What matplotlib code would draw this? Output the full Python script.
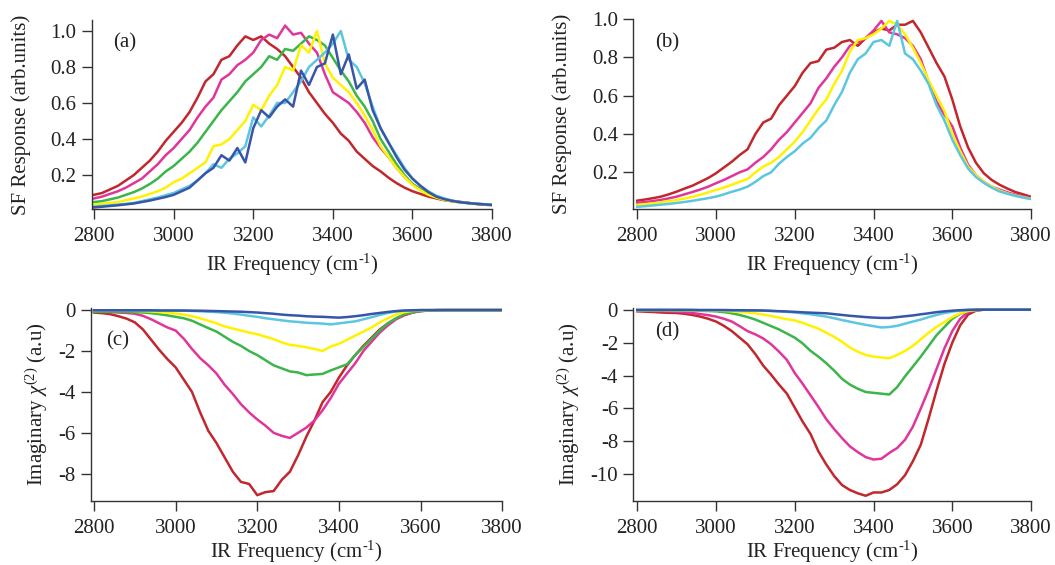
import numpy as np
import matplotlib
matplotlib.use("Agg")
from matplotlib import pyplot as plt

plt.rcParams['font.family'] = ['Liberation Serif', 'DejaVu Serif']
plt.rcParams['mathtext.fontset'] = 'custom'
plt.rcParams['mathtext.rm'] = 'Liberation Serif'
plt.rcParams['mathtext.it'] = 'Liberation Serif:italic'
plt.rcParams['axes.unicode_minus'] = False

# IR frequency grid (cm-1), one value every 20 cm-1
freq = np.arange(2800, 3801, 20)

colors = ['#c1272d', '#e0369b', '#3cb54a', '#fff200', '#5cc6e0', '#3756a8']

# (a) SF response, six concentrations
a_red = [0.09, 0.10, 0.12, 0.14, 0.17, 0.20, 0.24, 0.28, 0.33, 0.39,
         0.44, 0.49, 0.55, 0.63, 0.72, 0.76, 0.84, 0.86, 0.92, 0.97,
         0.95, 0.97, 0.93, 0.90, 0.86, 0.80, 0.74, 0.66, 0.60, 0.54,
         0.49, 0.43, 0.39, 0.33, 0.29, 0.25, 0.22, 0.185, 0.155, 0.13,
         0.11, 0.095, 0.08, 0.07, 0.06, 0.055, 0.05, 0.045, 0.04, 0.035,
         0.033]
a_magenta = [0.07, 0.08, 0.095, 0.11, 0.13, 0.155, 0.18, 0.22, 0.26, 0.31,
             0.35, 0.40, 0.45, 0.52, 0.58, 0.63, 0.73, 0.76, 0.81, 0.84,
             0.88, 0.95, 0.98, 0.96, 1.03, 0.98, 0.99, 0.93, 0.88, 0.76,
             0.66, 0.63, 0.60, 0.55, 0.49, 0.41, 0.35, 0.30, 0.24, 0.19,
             0.15, 0.12, 0.095, 0.08, 0.065, 0.057, 0.05, 0.045, 0.04, 0.037,
             0.035]
a_green = [0.05, 0.055, 0.065, 0.075, 0.09, 0.105, 0.125, 0.15, 0.18, 0.22,
           0.25, 0.29, 0.33, 0.38, 0.44, 0.50, 0.56, 0.61, 0.66, 0.72,
           0.76, 0.80, 0.86, 0.84, 0.90, 0.89, 0.93, 0.97, 0.95, 0.92,
           0.85, 0.78, 0.72, 0.64, 0.58, 0.50, 0.40, 0.33, 0.26, 0.20,
           0.15, 0.12, 0.095, 0.075, 0.062, 0.054, 0.048, 0.044, 0.04, 0.037,
           0.035]
a_yellow = [0.035, 0.04, 0.045, 0.05, 0.06, 0.07, 0.08, 0.095, 0.11, 0.13,
            0.16, 0.18, 0.21, 0.24, 0.27, 0.36, 0.37, 0.40, 0.45, 0.50,
            0.59, 0.56, 0.64, 0.70, 0.80, 0.78, 0.92, 0.88, 1.00, 0.82,
            0.74, 0.70, 0.66, 0.60, 0.53, 0.45, 0.36, 0.30, 0.24, 0.19,
            0.145, 0.115, 0.09, 0.075, 0.062, 0.054, 0.048, 0.044, 0.04, 0.037,
            0.035]
a_lightblue = [0.025, 0.028, 0.032, 0.036, 0.04, 0.045, 0.055, 0.065, 0.075, 0.088,
               0.10, 0.12, 0.14, 0.17, 0.21, 0.26, 0.24, 0.29, 0.32, 0.36,
               0.52, 0.47, 0.53, 0.60, 0.60, 0.66, 0.72, 0.80, 0.84, 0.88,
               0.93, 1.00, 0.84, 0.80, 0.71, 0.58, 0.46, 0.38, 0.31, 0.24,
               0.18, 0.14, 0.11, 0.085, 0.07, 0.058, 0.05, 0.045, 0.041, 0.038,
               0.035]
a_darkblue = [0.02, 0.024, 0.028, 0.032, 0.037, 0.042, 0.05, 0.058, 0.068, 0.078,
              0.09, 0.11, 0.13, 0.17, 0.21, 0.24, 0.31, 0.28, 0.35, 0.27,
              0.46, 0.56, 0.52, 0.58, 0.62, 0.58, 0.78, 0.70, 0.80, 0.82,
              0.98, 0.76, 0.87, 0.68, 0.73, 0.56, 0.46, 0.38, 0.30, 0.23,
              0.18, 0.14, 0.105, 0.08, 0.066, 0.056, 0.049, 0.044, 0.04, 0.037,
              0.034]

# (b) SF response, four concentrations
b_red = [0.052, 0.058, 0.065, 0.073, 0.085, 0.099, 0.115, 0.13, 0.15, 0.17,
         0.195, 0.225, 0.255, 0.29, 0.32, 0.40, 0.46, 0.48, 0.55, 0.60,
         0.65, 0.72, 0.77, 0.78, 0.84, 0.85, 0.88, 0.89, 0.86, 0.90,
         0.93, 0.95, 0.94, 0.97, 0.97, 0.99, 0.93, 0.85, 0.77, 0.70,
         0.58, 0.44, 0.33, 0.25, 0.195, 0.16, 0.135, 0.115, 0.097, 0.085,
         0.072]
b_magenta = [0.041, 0.045, 0.05, 0.056, 0.064, 0.073, 0.085, 0.097, 0.11, 0.125,
             0.143, 0.16, 0.18, 0.20, 0.215, 0.25, 0.28, 0.32, 0.37, 0.41,
             0.46, 0.51, 0.56, 0.64, 0.69, 0.75, 0.80, 0.86, 0.88, 0.90,
             0.94, 0.99, 0.93, 0.92, 0.90, 0.86, 0.79, 0.67, 0.57, 0.50,
             0.44, 0.33, 0.24, 0.185, 0.15, 0.125, 0.11, 0.095, 0.083, 0.073,
             0.064]
b_yellow = [0.03, 0.034, 0.038, 0.043, 0.049, 0.055, 0.063, 0.072, 0.083, 0.095,
            0.108, 0.12, 0.135, 0.15, 0.165, 0.20, 0.23, 0.25, 0.28, 0.32,
            0.36, 0.41, 0.47, 0.53, 0.58, 0.66, 0.73, 0.83, 0.89, 0.90,
            0.92, 0.95, 0.99, 0.97, 0.92, 0.85, 0.77, 0.68, 0.60, 0.52,
            0.40, 0.31, 0.23, 0.185, 0.15, 0.125, 0.105, 0.09, 0.078, 0.07,
            0.062]
b_lightblue = [0.02, 0.023, 0.027, 0.031, 0.035, 0.04, 0.045, 0.051, 0.058, 0.065,
               0.073, 0.085, 0.098, 0.11, 0.125, 0.15, 0.18, 0.20, 0.245, 0.28,
               0.31, 0.35, 0.38, 0.43, 0.47, 0.55, 0.62, 0.72, 0.79, 0.82,
               0.88, 0.89, 0.86, 0.99, 0.82, 0.79, 0.73, 0.66, 0.55, 0.47,
               0.37, 0.29, 0.22, 0.175, 0.145, 0.12, 0.10, 0.088, 0.077, 0.068,
               0.06]

# (c) imaginary chi(2)
c_red = [-0.12, -0.15, -0.2, -0.3, -0.42, -0.6, -0.95, -1.45, -1.95, -2.4,
         -2.8, -3.4, -4.0, -5.0, -5.9, -6.5, -7.2, -7.9, -8.4, -8.5,
         -9.05, -8.9, -8.85, -8.3, -7.9, -7.1, -6.2, -5.4, -4.5, -4.0,
         -3.3, -2.7, -2.2, -1.75, -1.35, -0.95, -0.65, -0.42, -0.25, -0.12,
         -0.05, -0.02, -0.01, 0.0, 0.0, 0.0, 0.0, 0.0, 0.0, 0.0,
         0.0]
c_magenta = [-0.08, -0.09, -0.1, -0.12, -0.14, -0.18, -0.28, -0.45, -0.65, -0.85,
             -1.0, -1.4, -1.9, -2.35, -2.7, -3.1, -3.65, -4.1, -4.6, -5.0,
             -5.35, -5.65, -6.0, -6.15, -6.25, -6.0, -5.75, -5.4, -4.9, -4.3,
             -3.6, -3.1, -2.6, -2.0, -1.55, -1.1, -0.75, -0.45, -0.25, -0.12,
             -0.05, -0.02, 0.0, 0.0, 0.0, 0.0, 0.0, 0.0, 0.0, 0.0,
             0.0]
c_green = [-0.08, -0.08, -0.08, -0.08, -0.09, -0.1, -0.12, -0.15, -0.2, -0.26,
           -0.33, -0.4, -0.52, -0.7, -0.88, -1.05, -1.3, -1.55, -1.75, -2.0,
           -2.2, -2.45, -2.7, -2.85, -3.0, -3.05, -3.18, -3.15, -3.12, -2.95,
           -2.8, -2.65, -2.2, -1.8, -1.4, -1.0, -0.65, -0.4, -0.2, -0.1,
           -0.04, -0.02, 0.0, 0.0, 0.0, 0.0, 0.0, 0.0, 0.0, 0.0,
           0.0]
c_yellow = [-0.03, -0.03, -0.03, -0.03, -0.03, -0.04, -0.05, -0.07, -0.1, -0.13,
            -0.17, -0.22, -0.3, -0.4, -0.52, -0.65, -0.8, -0.9, -1.0, -1.1,
            -1.18, -1.3, -1.42, -1.58, -1.7, -1.75, -1.82, -1.9, -2.0, -1.78,
            -1.65, -1.45, -1.25, -1.05, -0.85, -0.6, -0.4, -0.22, -0.1, -0.04,
            -0.02, 0.0, 0.0, 0.0, 0.0, 0.0, 0.0, 0.0, 0.0, 0.0,
            0.0]
c_lightblue = [-0.02, -0.02, -0.02, -0.02, -0.02, -0.02, -0.02, -0.02, -0.02, -0.02,
               -0.03, -0.03, -0.04, -0.06, -0.08, -0.1, -0.13, -0.17, -0.22, -0.28,
               -0.33, -0.4, -0.45, -0.5, -0.55, -0.58, -0.62, -0.64, -0.66, -0.7,
               -0.65, -0.6, -0.55, -0.45, -0.35, -0.24, -0.14, -0.07, -0.03, -0.01,
               0.0, 0.0, 0.0, 0.0, 0.0, 0.0, 0.0, 0.0, 0.0, 0.0,
               0.0]
c_darkblue = [-0.01, -0.01, -0.01, -0.01, -0.01, -0.01, -0.01, -0.01, -0.02, -0.02,
              -0.02, -0.02, -0.03, -0.03, -0.04, -0.05, -0.06, -0.07, -0.08, -0.1,
              -0.12, -0.15, -0.18, -0.22, -0.25, -0.27, -0.3, -0.32, -0.33, -0.35,
              -0.37, -0.34, -0.3, -0.25, -0.19, -0.14, -0.09, -0.05, -0.02, -0.01,
              0.0, 0.0, 0.0, 0.0, 0.0, 0.0, 0.0, 0.0, 0.0, 0.0,
              0.0]

# (d) imaginary chi(2)
d_red = [-0.1, -0.12, -0.14, -0.17, -0.19, -0.2, -0.25, -0.32, -0.42, -0.55,
         -0.72, -0.98, -1.3, -1.7, -2.1, -2.7, -3.4, -3.95, -4.55, -5.1,
         -5.95, -6.8, -7.55, -8.6, -9.4, -10.1, -10.65, -10.95, -11.15, -11.3,
         -11.1, -11.1, -10.95, -10.6, -10.05, -9.2, -8.2, -6.6, -4.9, -3.3,
         -2.0, -0.95, -0.3, -0.06, 0.0, 0.0, 0.0, 0.0, 0.0, 0.0,
         0.0]
d_magenta = [-0.05, -0.06, -0.07, -0.08, -0.1, -0.12, -0.15, -0.2, -0.27, -0.33,
             -0.42, -0.55, -0.72, -1.0, -1.3, -1.5, -1.75, -2.1, -2.55, -3.05,
             -3.85, -4.5, -5.2, -5.9, -6.65, -7.25, -7.8, -8.3, -8.65, -8.95,
             -9.1, -9.05, -8.7, -8.4, -7.9, -7.1, -6.0, -4.85, -3.6, -2.35,
             -1.3, -0.55, -0.15, -0.03, 0.0, 0.0, 0.0, 0.0, 0.0, 0.0,
             0.0]
d_green = [-0.04, -0.04, -0.04, -0.04, -0.04, -0.05, -0.05, -0.06, -0.07, -0.08,
           -0.1, -0.15, -0.22, -0.32, -0.45, -0.6, -0.8, -1.0, -1.2, -1.45,
           -1.7, -2.05, -2.5, -2.85, -3.25, -3.7, -4.2, -4.55, -4.8, -5.0,
           -5.05, -5.1, -5.15, -4.7, -4.05, -3.45, -2.85, -2.2, -1.55, -1.05,
           -0.55, -0.25, -0.08, -0.02, 0.0, 0.0, 0.0, 0.0, 0.0, 0.0,
           0.0]
d_yellow = [-0.02, -0.02, -0.02, -0.02, -0.03, -0.03, -0.03, -0.04, -0.04, -0.05,
            -0.05, -0.07, -0.1, -0.13, -0.17, -0.22, -0.3, -0.38, -0.48, -0.58,
            -0.65, -0.8, -0.98, -1.15, -1.4, -1.65, -1.95, -2.3, -2.55, -2.75,
            -2.85, -2.9, -2.95, -2.75, -2.5, -2.2, -1.8, -1.4, -1.05, -0.75,
            -0.45, -0.22, -0.08, -0.02, 0.0, 0.0, 0.0, 0.0, 0.0, 0.0,
            0.0]
d_lightblue = [-0.02, -0.02, -0.02, -0.02, -0.02, -0.02, -0.02, -0.03, -0.03, -0.03,
               -0.03, -0.04, -0.04, -0.05, -0.05, -0.05, -0.06, -0.08, -0.1, -0.13,
               -0.17, -0.22, -0.28, -0.35, -0.42, -0.52, -0.63, -0.73, -0.83, -0.92,
               -1.0, -1.08, -1.05, -0.98, -0.85, -0.72, -0.6, -0.45, -0.32, -0.2,
               -0.12, -0.06, -0.02, 0.0, 0.0, 0.0, 0.0, 0.0, 0.0, 0.0,
               0.0]
d_darkblue = [-0.01, -0.01, -0.01, -0.01, -0.01, -0.01, -0.01, -0.01, -0.02, -0.02,
              -0.02, -0.02, -0.03, -0.03, -0.04, -0.04, -0.05, -0.07, -0.09, -0.11,
              -0.13, -0.16, -0.18, -0.2, -0.22, -0.27, -0.32, -0.37, -0.41, -0.45,
              -0.48, -0.5, -0.5, -0.45, -0.4, -0.35, -0.28, -0.22, -0.15, -0.1,
              -0.06, -0.03, -0.01, 0.0, 0.0, 0.0, 0.0, 0.0, 0.0, 0.0,
              0.0]

xticks = [2800, 3000, 3200, 3400, 3600, 3800]
sf_yticks = [0.2, 0.4, 0.6, 0.8, 1.0]
c_yticks = [0, -2, -4, -6, -8]
d_yticks = [0, -2, -4, -6, -8, -10]

sf_label = 'SF Response (arb.units)'
chi_label = r'Imaginary $\chi^{(2)}$ (a.u)'

panels = [
    # rect, series, colours, xlim, ylim, yticks, ylabel, y labelpad, x labelpad, tag, tag position
    ([0.0869, 0.630, 0.3795, 0.3346],
     [a_red, a_magenta, a_green, a_yellow, a_lightblue, a_darkblue], colors,
     (2794, 3800), (0.011, 1.061), sf_yticks, sf_label, 14, 4, '(a)', (0.083, 0.88)),
    ([0.6003, 0.6296, 0.377, 0.3368],
     [b_red, b_magenta, b_yellow, b_lightblue], [colors[0], colors[1], colors[3], colors[4]],
     (2790, 3800), (0.007, 1.0), sf_yticks, sf_label, 14, 4, '(b)', (0.085, 0.875)),
    ([0.086, 0.1138, 0.390, 0.341],
     [c_red, c_magenta, c_green, c_yellow, c_lightblue, c_darkblue], colors,
     (2792, 3800), (-9.32, 0.1), c_yticks, chi_label, 6, 1, '(c)', (0.066, 0.83)),
    ([0.6003, 0.1138, 0.377, 0.341],
     [d_red, d_magenta, d_green, d_yellow, d_lightblue, d_darkblue], colors,
     (2790, 3800), (-11.6, 0.1), d_yticks, chi_label, 6, 1, '(d)', (0.085, 0.876)),
]

fig = plt.figure(figsize=(10.55, 5.65), dpi=100)

for rect, series, cols, xlim, ylim, yticks, ylabel, lpad, xpad, tag, tagpos in panels:
    ax = fig.add_axes(rect)
    for vals, col in zip(series, cols):
        ax.plot(freq, vals, color=col, lw=1.8)
    ax.set_xlim(*xlim)
    ax.set_ylim(*ylim)
    ax.set_xticks(xticks)
    ax.set_yticks(yticks)
    if ylim[1] > 0.5:
        ax.set_yticklabels(['%.1f' % v for v in yticks])
    ax.spines['top'].set_visible(False)
    ax.spines['right'].set_visible(False)
    for s in ('left', 'bottom'):
        ax.spines[s].set_color('#333333')
        ax.spines[s].set_linewidth(1.0)
    ax.tick_params(direction='out', length=7, width=1.0, colors='#333333',
                   labelcolor='#222222', labelsize=15)
    ax.tick_params(axis='x', pad=6)
    ax.tick_params(axis='y', pad=4)
    ax.set_xlabel('IR Frequency (cm$^{\\mathrm{\u20101}}$)', fontsize=15, color='#222222', labelpad=xpad)
    ax.set_ylabel(ylabel, fontsize=15, color='#222222', labelpad=lpad)
    ax.text(tagpos[0], tagpos[1], tag, transform=ax.transAxes, fontsize=15,
            ha='center', va='center', color='#222222')

fig.savefig('out.png', dpi=100)
